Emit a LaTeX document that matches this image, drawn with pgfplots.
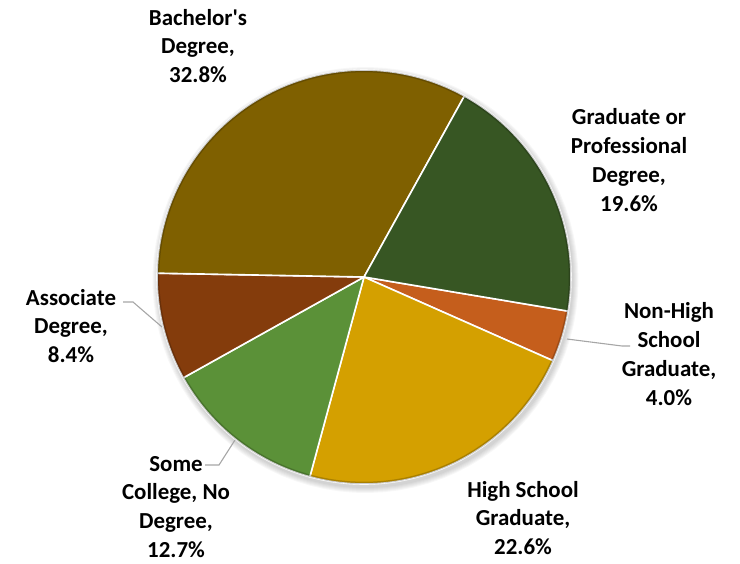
\documentclass[border=0pt]{standalone}
\usepackage{pgfplots}
\usepackage{pgfplotstable}
\pgfplotsset{compat=1.18}
\usepackage{fontspec}
\setmainfont{Carlito}

\definecolor{cNHS}{HTML}{C55E1C}
\definecolor{cHS}{HTML}{D4A000}
\definecolor{cSC}{HTML}{5B9138}
\definecolor{cAssoc}{HTML}{843C0C}
\definecolor{cBach}{HTML}{7F6000}
\definecolor{cGrad}{HTML}{375623}
\definecolor{leader}{HTML}{A6A6A6}

% share of each education level, clockwise from the right-hand side
\pgfplotstableread{
value color
4.0   cNHS
22.6  cHS
12.7  cSC
8.4   cAssoc
32.8  cBach
19.6  cGrad
}\piedata

\begin{document}
\begin{tikzpicture}
\begin{axis}[
    scale only axis,
    width=740bp, height=563bp,
    xmin=0, xmax=740, ymin=0, ymax=563,
    y dir=reverse,
    hide axis,
    clip=false,
]
    \def\cx{364}\def\cy{277}\def\r{207}
    % soft shadow behind the pie
    \pgfplotsforeachungrouped \k in {1,...,6}{
        \edef\cmd{\noexpand\addplot[draw=none, fill=black, fill opacity=0.03,
            domain=0:360, samples=90]
            ({\cx+1.5+(\r+\k)*cos(x)},{\cy+3+(\r+\k)*sin(x)}) -- cycle;}
        \cmd
    }
    % total of the values
    \pgfplotstablegetrowsof{\piedata}
    \pgfmathtruncatemacro\nlast{\pgfplotsretval-1}
    \xdef\total{0}
    \pgfplotsforeachungrouped \i in {0,...,\nlast}{
        \pgfplotstablegetelem{\i}{value}\of\piedata
        \pgfmathsetmacro\tmp{\total+\pgfplotsretval}
        \xdef\total{\tmp}
    }
    % slices
    \xdef\angstart{-9.5}
    \pgfplotsforeachungrouped \i in {0,...,\nlast}{
        \pgfplotstablegetelem{\i}{value}\of\piedata
        \let\v\pgfplotsretval
        \pgfplotstablegetelem{\i}{color}\of\piedata
        \let\c\pgfplotsretval
        \pgfmathsetmacro\angend{\angstart-\v*360/\total}
        \edef\cmd{\noexpand\addplot[fill=\c, draw=white, line width=1.6bp,
            line join=round, domain=\angend:\angstart, samples=80]
            ({\cx+\r*cos(x)},{\cy-\r*sin(x)}) -- (axis cs:\cx,\cy) -- cycle;}
        \cmd
        \xdef\angstart{\angend}
    }
    % darker rim
    \edef\cmd{\noexpand\addplot[draw=black, draw opacity=0.2, line width=2.5bp,
        domain=0:360, samples=120] ({\cx+(\r-1)*cos(x)},{\cy-(\r-1)*sin(x)}) -- cycle;}
    \cmd

    % leader lines
    \draw[leader, line width=1.1bp] (axis cs:567,339) -- (axis cs:622,346) -- (axis cs:630,346);
    \draw[leader, line width=1.1bp] (axis cs:123,302) -- (axis cs:133,302) -- (axis cs:162,327);
    \draw[leader, line width=1.1bp] (axis cs:205,465) -- (axis cs:219,465) -- (axis cs:235,440);

    % data labels
    \tikzset{lbl/.style={align=center, font=\fontsize{23}{29}\selectfont\bfseries, text=black, inner sep=0pt}}
    \node[lbl] at (axis cs:198,46) {Bachelor\textquotesingle s\\Degree,\\32.8\%};
    \node[lbl] at (axis cs:629,160) {Graduate or\\Professional\\Degree,\\19.6\%};
    \node[lbl] at (axis cs:669,354) {Non-High\\School\\Graduate,\\4.0\%};
    \node[lbl] at (axis cs:523,518) {High School\\Graduate,\\22.6\%};
    \node[lbl] at (axis cs:176,507) {Some\\College, No\\Degree,\\12.7\%};
    \node[lbl] at (axis cs:71,326) {Associate\\Degree,\\8.4\%};

    \path (rel axis cs:0,0) rectangle (rel axis cs:1,1);
\end{axis}
\end{tikzpicture}
\end{document}
